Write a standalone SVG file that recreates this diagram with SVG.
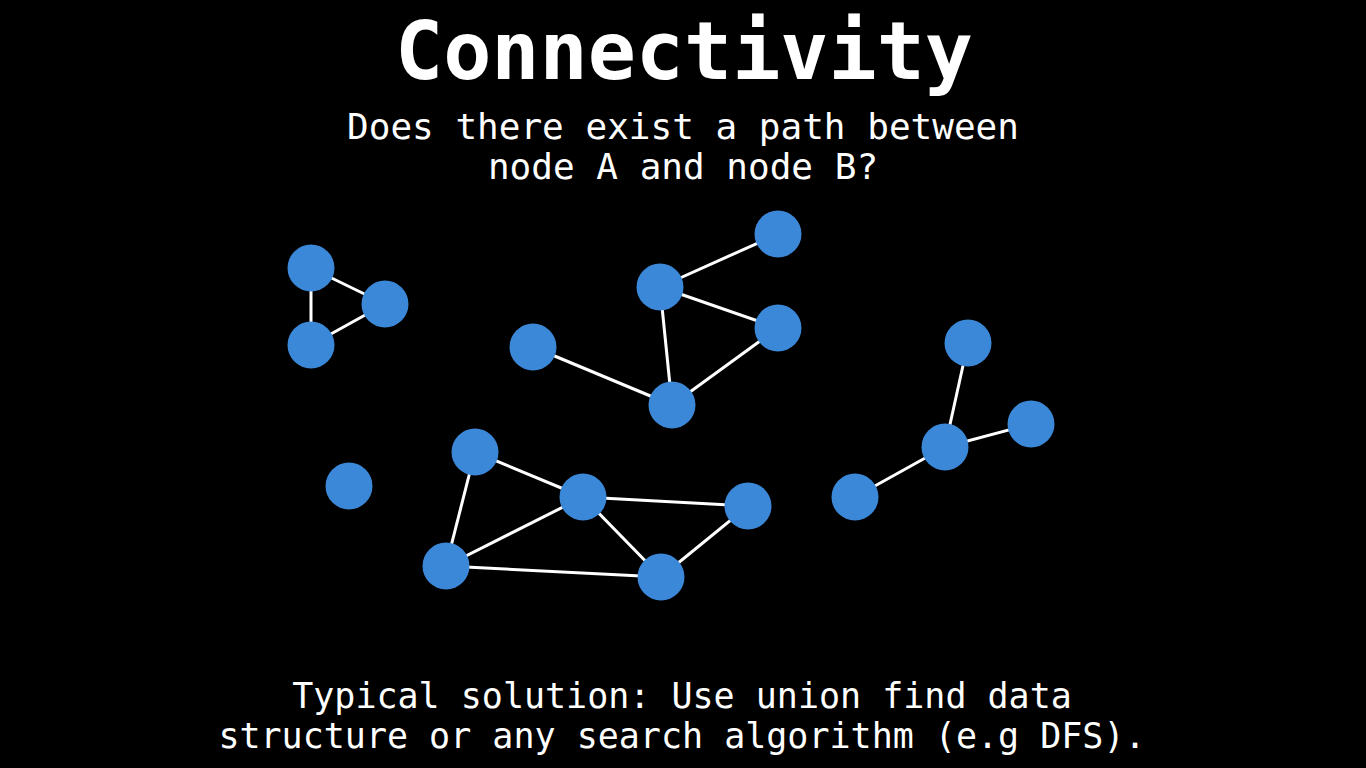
<svg xmlns="http://www.w3.org/2000/svg" width="1366" height="768" viewBox="0 0 1366 768">
<style>
.t{font-family:"DejaVu Sans Mono","Liberation Mono",monospace;fill:#ffffff;text-anchor:middle}
.n{fill:#3b88d8}
.e{stroke:#ffffff;stroke-width:3;fill:none}
</style>
<rect width="1366" height="768" fill="#000000"/>
<text class="t" x="684" y="79" font-size="80" font-weight="bold">Connectivity</text>
<text class="t" x="683" y="139" font-size="36">Does there exist a path between</text>
<text class="t" x="683" y="179" font-size="36">node A and node B?</text>
<text class="t" x="682" y="708" font-size="35">Typical solution: Use union find data</text>
<text class="t" x="682" y="748" font-size="35">structure or any search algorithm (e.g DFS).</text>
<g id="connectors">
<line class="e" x1="311" y1="268" x2="385" y2="304"/>
<line class="e" x1="311" y1="268" x2="311" y2="345"/>
<line class="e" x1="311" y1="345" x2="385" y2="304"/>
<line class="e" x1="533" y1="347" x2="672" y2="405"/>
<line class="e" x1="660" y1="287" x2="672" y2="405"/>
<line class="e" x1="660" y1="287" x2="778" y2="234"/>
<line class="e" x1="660" y1="287" x2="778" y2="328"/>
<line class="e" x1="778" y1="328" x2="672" y2="405"/>
<line class="e" x1="475" y1="452" x2="583" y2="497"/>
<line class="e" x1="475" y1="452" x2="446" y2="566"/>
<line class="e" x1="583" y1="497" x2="748" y2="506"/>
<line class="e" x1="583" y1="497" x2="446" y2="566"/>
<line class="e" x1="583" y1="497" x2="661" y2="577"/>
<line class="e" x1="446" y1="566" x2="661" y2="577"/>
<line class="e" x1="748" y1="506" x2="661" y2="577"/>
<line class="e" x1="968" y1="343" x2="945" y2="447"/>
<line class="e" x1="945" y1="447" x2="1031" y2="424"/>
<line class="e" x1="945" y1="447" x2="855" y2="497"/>
</g>
<g id="n1"><circle class="n" cx="311" cy="268" r="23.5"/></g>
<g id="n2"><circle class="n" cx="385" cy="304" r="23.5"/></g>
<g id="n3"><circle class="n" cx="311" cy="345" r="23.5"/></g>
<g id="n4"><circle class="n" cx="533" cy="347" r="23.5"/></g>
<g id="n5"><circle class="n" cx="660" cy="287" r="23.5"/></g>
<g id="n6"><circle class="n" cx="778" cy="234" r="23.5"/></g>
<g id="n7"><circle class="n" cx="778" cy="328" r="23.5"/></g>
<g id="n8"><circle class="n" cx="672" cy="405" r="23.5"/></g>
<g id="n9"><circle class="n" cx="349" cy="486" r="23.5"/></g>
<g id="n10"><circle class="n" cx="475" cy="452" r="23.5"/></g>
<g id="n11"><circle class="n" cx="583" cy="497" r="23.5"/></g>
<g id="n12"><circle class="n" cx="748" cy="506" r="23.5"/></g>
<g id="n13"><circle class="n" cx="446" cy="566" r="23.5"/></g>
<g id="n14"><circle class="n" cx="661" cy="577" r="23.5"/></g>
<g id="n15"><circle class="n" cx="968" cy="343" r="23.5"/></g>
<g id="n16"><circle class="n" cx="945" cy="447" r="23.5"/></g>
<g id="n17"><circle class="n" cx="1031" cy="424" r="23.5"/></g>
<g id="n18"><circle class="n" cx="855" cy="497" r="23.5"/></g>
</svg>
